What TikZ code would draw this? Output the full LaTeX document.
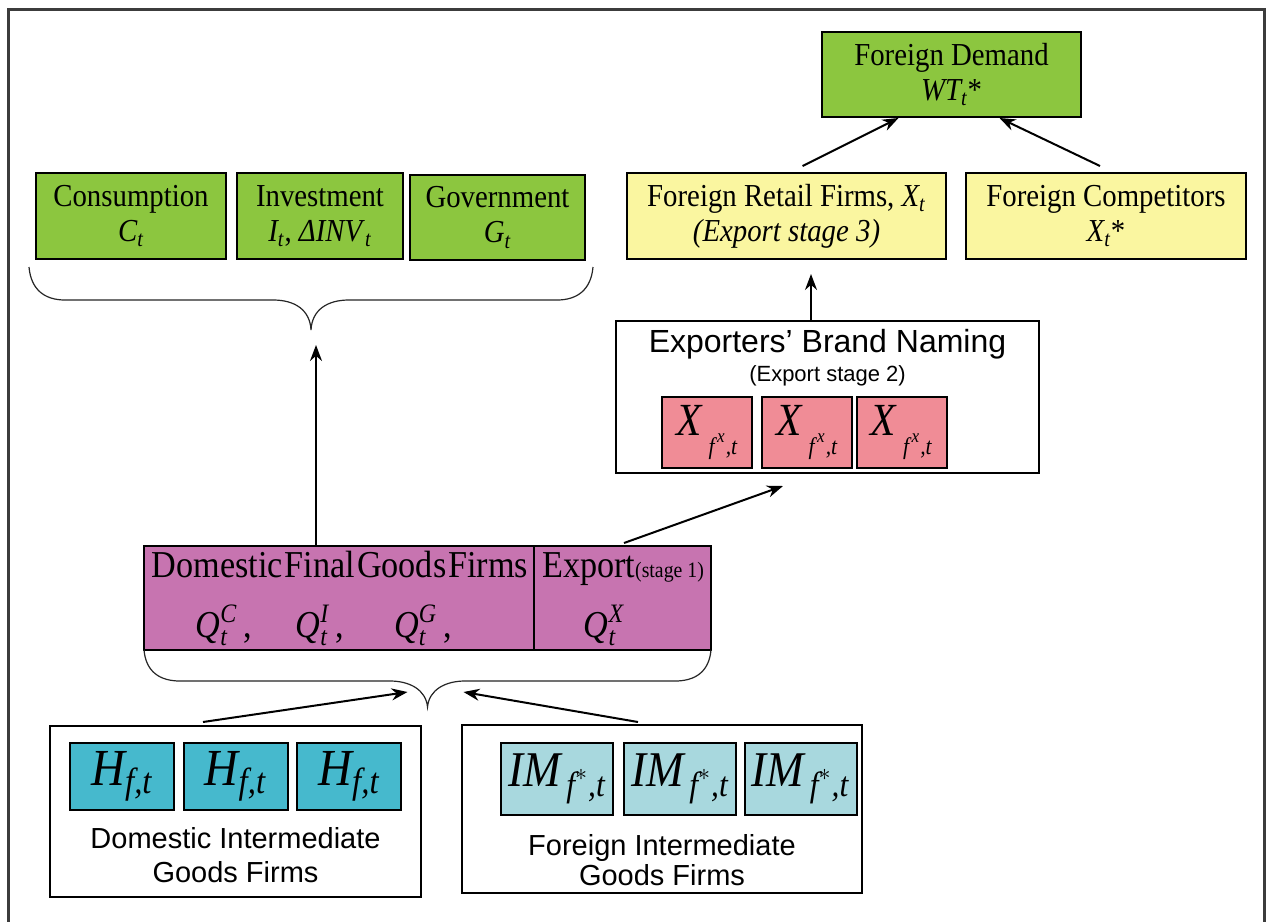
\documentclass[tikz,border=0pt]{standalone}
\usepackage{amsmath}
\usepackage{fontspec}
\setmainfont{Liberation Serif}[FakeStretch=0.9]
\newfontfamily\sansf{Liberation Sans}
\usetikzlibrary{arrows.meta,calc}
\definecolor{grn}{RGB}{140,198,63}
\definecolor{ylw}{RGB}{250,246,160}
\definecolor{pnk}{RGB}{240,140,150}
\definecolor{mag}{RGB}{199,116,176}
\definecolor{tealA}{RGB}{70,185,205}
\definecolor{lcy}{RGB}{168,216,222}
\definecolor{frm}{RGB}{60,60,60}
\newcommand\fsz[2]{\fontsize{#1}{#2}\selectfont}
\newcommand\xsub{\textit{X}\hspace{0.12em}\raisebox{-0.42em}{\fsz{12}{12}\textit{f}\raisebox{0.5em}{\fsz{9.5}{9.5}\textit{x}}\hspace{0.05em}\textit{,t}}}
\tikzset{
  bx/.style={draw=black, line width=1pt, rectangle, inner sep=0pt, align=center},
  arr/.style={-{Stealth[length=8pt,width=6pt]}, line width=1pt},
  brc/.style={line width=0.6pt, draw=black!85},
  ttl/.style={font=\fsz{16}{17.5}},
  lbl/.style={inner sep=0pt, anchor=base},
}
\begin{document}
\begin{tikzpicture}[x=0.5pt,y=-0.5pt]
\useasboundingbox (0,0) rectangle (1267,921);
\fill[white] (0,0) rectangle (1267,921);
% outer frame
\draw[frm, line width=1.5pt] (8,940) -- (8,9) -- (1264,9) -- (1264,940);

% top level demand boxes
\node[bx, fill=grn, ttl, minimum width=95pt, minimum height=43pt] (cons) at (131,216) {Consumption\\$\textit{C}_{\textit{t}}$};
\node[bx, fill=grn, ttl, minimum width=83pt, minimum height=43pt] (inv) at (320,216) {Investment\\$\textit{I}_{\textit{t}}$, \textit{ΔINV}$_{\textit{t}}$};
\node[bx, fill=grn, ttl, minimum width=87.5pt, minimum height=42.5pt] (gov) at (497.5,217.5) {Government\\$\textit{G}_{\textit{t}}$};
\node[bx, fill=grn, ttl, minimum width=129.5pt, minimum height=42.5pt] (fd) at (951.5,74.5) {Foreign Demand\\$\textit{WT}_{\textit{t}}$*};
\node[bx, fill=ylw, ttl, minimum width=159.5pt, minimum height=43pt] (retail) at (786.5,216) {Foreign Retail Firms, $\textit{X}_{\textit{t}}$\\\textit{(Export stage 3)}};
\node[bx, fill=ylw, ttl, minimum width=140pt, minimum height=43pt] (comp) at (1106,216) {Foreign Competitors\\$\textit{X}_{\textit{t}}$*};

% exporters' brand naming
\node[bx, fill=white, minimum width=211.5pt, minimum height=76pt] (exp) at (827.5,397) {};
\node[lbl, font=\sansf\fsz{16}{18}] (expt) at (827.5,352) {Exporters’ Brand Naming};
\node[lbl, font=\sansf\fsz{11}{13}] (exps) at (827.5,381) {(Export stage 2)};
\foreach \n/\x in {x1/707,x2/807,x3/901.5}{
  \node[bx, fill=pnk, minimum width=45pt, minimum height=35.5pt, font=\fsz{23}{24}] (\n) at (\x,432.5) {\xsub};
}

% domestic final goods firms
\node[bx, fill=mag, minimum width=195pt, minimum height=52pt] (dfgL) at (339,598) {};
\node[bx, fill=mag, minimum width=88.5pt, minimum height=52pt] (dfgX) at (622.5,598) {};
\node[lbl, font=\fsz{19}{20}] (dfgt) at (340,577) {Domestic\hspace{0.05em}Final\hspace{0.05em}Goods\hspace{0.05em}Firms};
\node[lbl, font=\fsz{19}{20}] (expo) at (623,577) {Export{\fsz{11}{12}(stage 1)}};
\node[lbl, font=\fsz{19}{20}] (qc) at (224,637) {$\textit{Q}^{\textit{C}}_{\textit{t}}$\,,};
\node[lbl, font=\fsz{19}{20}] (qi) at (320,637) {$\textit{Q}^{\textit{I}}_{\textit{t}}$\,,};
\node[lbl, font=\fsz{19}{20}] (qg) at (423,637) {$\textit{Q}^{\textit{G}}_{\textit{t}}$\,,};
\node[lbl, font=\fsz{19}{20}] (qx) at (604,637) {$\textit{Q}^{\textit{X}}_{\textit{t}}$};

% domestic intermediate goods firms
\node[bx, fill=white, minimum width=185.5pt, minimum height=85.5pt] (dint) at (235.5,811.5) {};
\foreach \n/\x in {h1/122,h2/235.5,h3/349}{
  \node[bx, fill=tealA, minimum width=52pt, minimum height=33.5pt, font=\fsz{26}{27}] (\n) at (\x,776.5) {$\textit{H}_{\textit{f,t}}$};
}
\node[lbl, font=\sansf\fsz{14.5}{16}] (dl1) at (235.5,848) {Domestic Intermediate};
\node[lbl, font=\sansf\fsz{14.5}{16}] (dl2) at (235.5,882) {Goods Firms};

% foreign intermediate goods firms
\node[bx, fill=white, minimum width=200pt, minimum height=84pt] (fint) at (662,809) {};
\foreach \n/\x in {m1/557,m2/680,m3/800.5}{
  \node[bx, fill=lcy, minimum width=56pt, minimum height=36pt, font=\fsz{25}{26}] (\n) at (\x,779) {$\textit{IM}_{\,\textit{f}^{*}\textit{,t}}$};
}
\node[lbl, font=\sansf\fsz{14.5}{16}] (fl1) at (662,855) {Foreign Intermediate};
\node[lbl, font=\sansf\fsz{14.5}{16}] (fl2) at (662,885) {Goods Firms};

% braces
\coordinate (ub) at (311,330);
\coordinate (lb) at (427.5,707);
\draw[brc] (29,267) .. controls (31,290) and (45,300) .. (65,300) -- (273,300)
  .. controls (295,300) and (310,310) .. (ub)
  .. controls (312,310) and (327,300) .. (349,300) -- (557,300)
  .. controls (577,300) and (591,290) .. (593,267);
\draw[brc] (144,650) .. controls (146,672) and (160,681) .. (180,681) -- (390,681)
  .. controls (410,681) and (426,690) .. (lb)
  .. controls (429,690) and (445,681) .. (465,681) -- (675,681)
  .. controls (695,681) and (709,672) .. (711,650);

% arrows
\draw[arr] ($(retail.north)+(16,-6)$) -- ($(fd.south)+(-53,0)$);
\draw[arr] ($(comp.north)+(-6,-6)$) -- ($(fd.south)+(48,0)$);
\draw[arr] ($(exp.north)+(-16.5,0)$) -- ($(retail.south)+(24.5,14)$);
\draw[arr] ($(dfgX.north)+(1.5,-2)$) -- ($(exp.south)+(-44.5,12)$);
\draw[arr] ($(dfgL.north)+(-23,0)$) -- ($(ub)+(5,15)$);
\draw[arr] ($(dint.north)+(-32.5,-3)$) -- ($(lb)+(-20,-15)$);
\draw[arr] ($(fint.north)+(-24,-2)$) -- ($(lb)+(36,-15)$);
\end{tikzpicture}
\end{document}
